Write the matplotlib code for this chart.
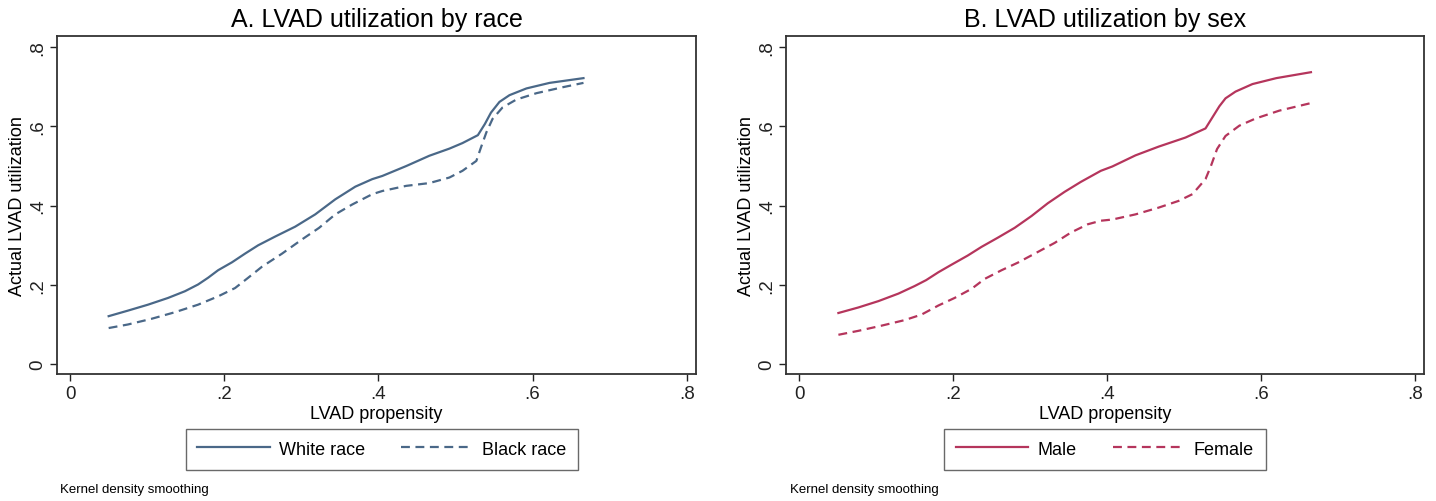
import numpy as np
import matplotlib.pyplot as plt

plt.rcParams['font.family'] = ['Liberation Sans', 'DejaVu Sans']

# Panel A: by race
white_x = [0.050, 0.075, 0.101, 0.127, 0.149, 0.166, 0.179, 0.192, 0.210, 0.227, 0.244, 0.266,
           0.292, 0.318, 0.344, 0.370, 0.392, 0.405, 0.436, 0.466, 0.492, 0.509, 0.529, 0.538,
           0.546, 0.557, 0.570, 0.592, 0.622, 0.666]
white_y = [0.121, 0.135, 0.150, 0.167, 0.184, 0.201, 0.218, 0.237, 0.257, 0.279, 0.300, 0.322,
           0.347, 0.378, 0.416, 0.448, 0.467, 0.475, 0.500, 0.526, 0.544, 0.558, 0.578, 0.606,
           0.635, 0.662, 0.679, 0.696, 0.710, 0.722]
black_x = [0.050, 0.075, 0.105, 0.136, 0.166, 0.192, 0.214, 0.231, 0.249, 0.275, 0.301, 0.323,
           0.344, 0.366, 0.392, 0.405, 0.436, 0.466, 0.492, 0.509, 0.527, 0.533, 0.540, 0.548,
           0.561, 0.579, 0.605, 0.639, 0.666]
black_y = [0.091, 0.100, 0.114, 0.131, 0.150, 0.171, 0.192, 0.218, 0.246, 0.279, 0.315, 0.344,
           0.378, 0.403, 0.429, 0.437, 0.450, 0.457, 0.471, 0.488, 0.513, 0.547, 0.585, 0.619,
           0.648, 0.668, 0.684, 0.699, 0.710]

# Panel B: by sex
male_x = [0.051, 0.077, 0.103, 0.129, 0.150, 0.165, 0.181, 0.198, 0.219, 0.237, 0.258, 0.280,
          0.302, 0.323, 0.345, 0.366, 0.392, 0.407, 0.437, 0.467, 0.502, 0.528, 0.537, 0.546,
          0.554, 0.567, 0.589, 0.620, 0.665]
male_y = [0.129, 0.143, 0.159, 0.178, 0.197, 0.212, 0.232, 0.251, 0.274, 0.296, 0.319, 0.344,
          0.374, 0.406, 0.435, 0.460, 0.488, 0.499, 0.527, 0.549, 0.572, 0.595, 0.623, 0.651,
          0.671, 0.688, 0.707, 0.722, 0.737]
female_x = [0.051, 0.077, 0.107, 0.137, 0.159, 0.181, 0.202, 0.224, 0.241, 0.263, 0.284, 0.310,
            0.332, 0.353, 0.375, 0.392, 0.407, 0.437, 0.467, 0.493, 0.511, 0.528, 0.535, 0.543,
            0.554, 0.572, 0.593, 0.624, 0.665]
female_y = [0.074, 0.084, 0.097, 0.111, 0.125, 0.148, 0.167, 0.190, 0.215, 0.237, 0.256, 0.283,
            0.306, 0.332, 0.353, 0.362, 0.365, 0.378, 0.395, 0.412, 0.429, 0.467, 0.500, 0.543,
            0.576, 0.602, 0.620, 0.640, 0.659]

ticks = [0, 0.2, 0.4, 0.6, 0.8]
tick_labels = ['0', '.2', '.4', '.6', '.8']

blue = '#4a6888'
red = '#b5355c'

fig = plt.figure(figsize=(14.36, 5.02), dpi=100)
ax1 = fig.add_axes([0.0397, 0.253, 0.445, 0.673])
ax2 = fig.add_axes([0.5474, 0.253, 0.4443, 0.673])

ax1.plot(white_x, white_y, color=blue, linewidth=1.6, label='White race')
ax1.plot(black_x, black_y, color=blue, linewidth=1.6, linestyle=(0, (4, 2.5)), label='Black race')
ax2.plot(male_x, male_y, color=red, linewidth=1.6, label='Male')
ax2.plot(female_x, female_y, color=red, linewidth=1.6, linestyle=(0, (4, 2.5)), label='Female')

for ax, title, cx in [(ax1, 'A. LVAD utilization by race', 0.266), (ax2, 'B. LVAD utilization by sex', 0.7695)]:
    ax.set_xlim(-0.017, 0.812)
    ax.set_ylim(-0.025, 0.828)
    ax.set_xticks(ticks)
    ax.set_xticklabels(tick_labels)
    ax.set_yticks(ticks)
    ax.set_yticklabels(tick_labels, rotation=90, va='center')
    ax.tick_params(labelsize=13.5, length=5, width=1, pad=3, colors='#222222')
    for s in ax.spines.values():
        s.set_linewidth(1.3)
        s.set_color('#333333')
    ax.set_title(title, fontsize=18, pad=7)
    ax.set_xlabel('LVAD propensity', fontsize=13, labelpad=2)
    ax.set_ylabel('Actual LVAD utilization', fontsize=13, labelpad=2)
    ax.legend(loc='center', bbox_to_anchor=(cx, 0.103), bbox_transform=fig.transFigure,
              ncol=2, fontsize=13, frameon=True, fancybox=False, edgecolor='#444444',
              handlelength=4.0, handletextpad=0.5, columnspacing=2.0, borderpad=0.65)

fig.text(0.042, 0.018, 'Kernel density smoothing', fontsize=9.5)
fig.text(0.550, 0.018, 'Kernel density smoothing', fontsize=9.5)

fig.savefig('out.png', dpi=100)
